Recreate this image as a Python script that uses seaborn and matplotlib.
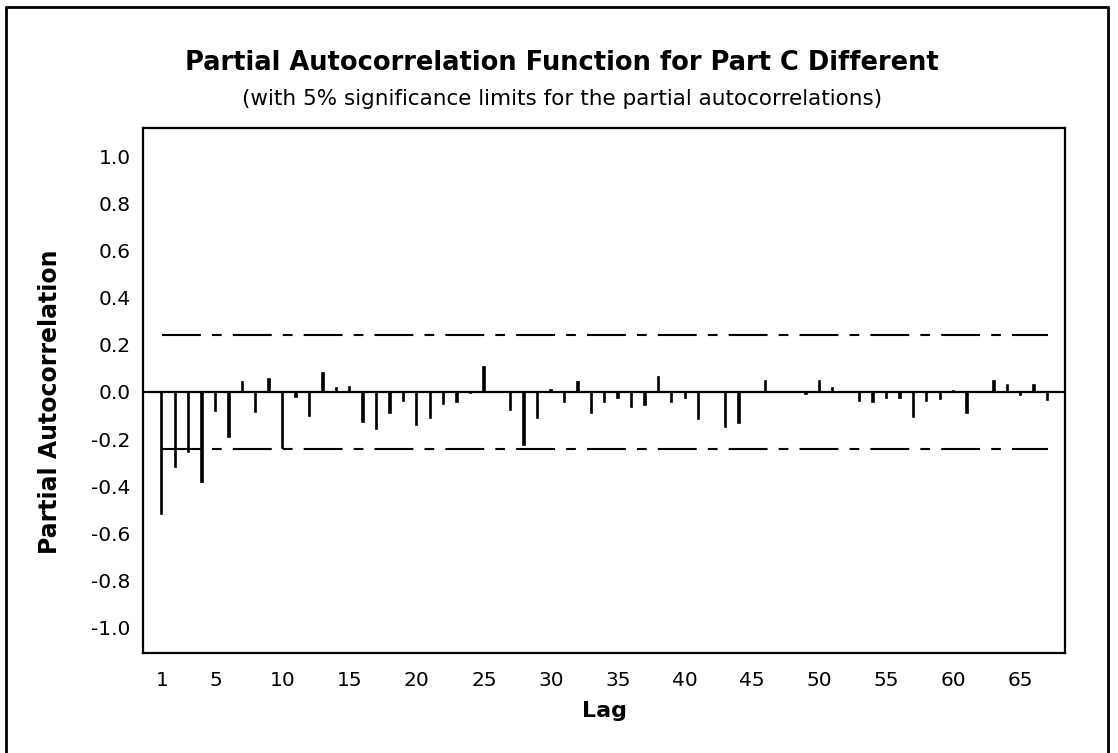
import numpy as np
import pandas as pd
import matplotlib
matplotlib.use("Agg")
import matplotlib.pyplot as plt
from matplotlib.lines import Line2D
import seaborn as sns

# Partial autocorrelations by lag
lags = list(range(1, 68))
pacf = [
    -0.52, -0.317, -0.253, -0.381, -0.079, -0.19, 0.044, -0.086, 0.054, -0.239,
    -0.02, -0.102, 0.079, 0.018, 0.02, -0.126, -0.158, -0.088, -0.037, -0.14,
    -0.109, -0.051, -0.042, -0.005, 0.107, 0.0, -0.076, -0.225, -0.109, 0.007,
    -0.041, 0.04, -0.088, -0.041, -0.024, -0.062, -0.055, 0.065, -0.041, -0.024,
    -0.115, 0.0, -0.147, -0.13, 0.0, 0.048, 0.0, 0.0, -0.007, 0.048,
    0.016, 0.0, -0.038, -0.041, -0.024, -0.024, -0.105, -0.038, -0.03, 0.005,
    -0.088, 0.0, 0.045, 0.03, -0.012, 0.03, -0.035,
]
sig_limit = 0.242
x_ticks = [1, 5, 10, 15, 20, 25, 30, 35, 40, 45, 50, 55, 60, 65]
y_ticks = [-1.0, -0.8, -0.6, -0.4, -0.2, 0.0, 0.2, 0.4, 0.6, 0.8, 1.0]

title = "Partial Autocorrelation Function for Part C Different"
subtitle = "(with 5% significance limits for the partial autocorrelations)"

sns.set_theme(style="white")
plt.rcParams["font.family"] = ["DejaVu Sans"]
plt.rcParams["text.color"] = "black"
plt.rcParams["axes.labelcolor"] = "black"
plt.rcParams["lines.scale_dashes"] = False

W, H = 1118, 753
fig = plt.figure(figsize=(W / 100, H / 100), dpi=100)
fig.patch.set_facecolor("white")
ax = fig.add_axes([143 / W, 1 - 653 / H, (1065 - 143) / W, (653 - 128) / H])

df = pd.DataFrame({"Lag": lags, "PACF": pacf})
sns.barplot(data=df, x="Lag", y="PACF", native_scale=True, width=0.1,
            color="black", saturation=1, edgecolor="black", linewidth=1.2,
            ax=ax, zorder=3)

# zero reference line
ax.axhline(0, color="black", lw=1.6, zorder=4)
n_before = len(ax.lines)

# significance limits
lim_df = pd.DataFrame({"Lag": [lags[0], lags[-1]] * 2,
                       "Limit": [sig_limit, sig_limit, -sig_limit, -sig_limit],
                       "side": ["upper", "upper", "lower", "lower"]})
for side, sub in lim_df.groupby("side"):
    sns.lineplot(data=sub, x="Lag", y="Limit", color="black", lw=1.5, ax=ax,
                 zorder=2)
for line in ax.lines[n_before:]:
    line.set_linestyle((0, (28, 8, 7, 8)))

ax.set_xlim(-0.4, 68.3)
ax.set_ylim(-1.108, 1.12)
ax.set_xticks(x_ticks)
ax.set_xticklabels([str(t) for t in x_ticks])
ax.set_yticks(y_ticks)
ax.set_yticklabels([f"{t:.1f}" for t in y_ticks])
ax.tick_params(axis="both", direction="out", length=6, width=1.3,
               colors="black", labelsize=14.5, pad=3)
ax.tick_params(axis="x", length=7, pad=6)
for s in ax.spines.values():
    s.set_color("black")
    s.set_linewidth(1.6)
ax.grid(False)

ax.set_xlabel("Lag", fontsize=16, fontweight="bold", labelpad=8)
ax.set_ylabel("Partial Autocorrelation", fontsize=17, fontweight="bold")
ax.yaxis.set_label_coords(-0.088, 0.478)

fig.text(562 / W, 1 - 63 / H, title, ha="center", va="center",
         fontsize=18.5, fontweight="bold")
fig.text(562 / W, 1 - 99 / H, subtitle, ha="center", va="center", fontsize=15.5)

# outer frame
for xs, ys in [([6, 6], [760, 7]), ([6, 1108], [7, 7]), ([1108, 1108], [7, 760])]:
    fig.add_artist(Line2D([x / W for x in xs], [1 - y / H for y in ys],
                          color="black", lw=2, transform=fig.transFigure))

fig.savefig("out.png", dpi=100, facecolor="white")
